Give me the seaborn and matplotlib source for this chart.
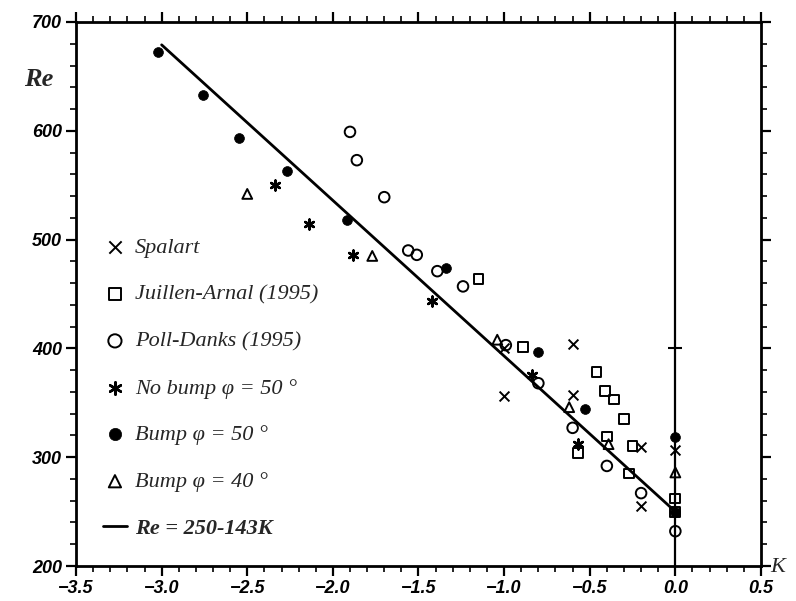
import matplotlib
matplotlib.use("Agg")
import matplotlib.pyplot as plt
import seaborn as sns
import pandas as pd
from matplotlib.ticker import MultipleLocator

# ---------------- data ----------------
spalart_k = [-1.00, -1.00, -0.60, -0.60, -0.20, -0.20, 0.00]
spalart_re = [400, 356, 404, 357, 309, 255, 307]

juillen_k = [-1.15, -0.89, -0.46, -0.41, -0.36, -0.30, -0.40, -0.25, -0.57, -0.27, 0.00, 0.00]
juillen_re = [464, 401, 378, 361, 353, 335, 319, 310, 304, 285, 262, 250]

poll_k = [-1.90, -1.86, -1.70, -1.56, -1.51, -1.39, -1.24, -0.99, -0.80, -0.60, -0.40, -0.20, 0.00]
poll_re = [599, 573, 539, 490, 486, 471, 457, 403, 368, 327, 292, 267, 232]

nobump_k = [-2.34, -2.14, -1.88, -1.42, -0.84, -0.57]
nobump_re = [550, 514, 486, 444, 376, 312]

bump50_k = [-3.02, -2.76, -2.55, -2.27, -1.92, -1.34, -0.80, -0.53, 0.00, 0.00]
bump50_re = [672, 633, 593, 563, 518, 474, 397, 344, 319, 250]

bump40_k = [-2.50, -1.77, -1.04, -0.62, -0.39, 0.00]
bump40_re = [542, 485, 408, 346, 312, 286]

fit_k = [-3.0, 0.0]
fit_re = [679, 250]

labels = ["Spalart", "Juillen-Arnal (1995)", "Poll-Danks (1995)",
          "No bump \u03c6 = 50 \u00b0", "Bump \u03c6 = 50 \u00b0",
          "Bump \u03c6 = 40 \u00b0", "Re = 250-143K"]

x_ticks = [-3.5, -3.0, -2.5, -2.0, -1.5, -1.0, -0.5, 0.0, 0.5]
y_ticks = [200, 300, 400, 500, 600, 700]

# ---------------- figure ----------------
sns.set_theme(style="ticks")
plt.rcParams["font.family"] = ["Liberation Serif", "DejaVu Serif"]

fig = plt.figure(figsize=(7.96, 6.01), dpi=100)
ax = fig.add_axes([0.0955, 0.0582, 0.8605, 0.9052])

S = 50
LW = 1.4
sns.scatterplot(x=spalart_k, y=spalart_re, ax=ax, marker="x", s=S, color="black",
                linewidth=LW, label=labels[0], zorder=4)
sns.scatterplot(x=juillen_k, y=juillen_re, ax=ax, marker="s", s=S, color="black",
                facecolor="none", edgecolor="black", linewidth=LW, label=labels[1], zorder=4)
sns.scatterplot(x=poll_k, y=poll_re, ax=ax, marker="o", s=S + 8, color="black",
                facecolor="none", edgecolor="black", linewidth=LW, label=labels[2], zorder=4)
sns.scatterplot(x=nobump_k, y=nobump_re, ax=ax, marker=(6, 2, 0), s=S, color="black",
                linewidth=LW + 0.4, label=labels[3], zorder=4)
sns.scatterplot(x=bump50_k, y=bump50_re, ax=ax, marker="o", s=S, color="black",
                edgecolor="black", linewidth=0.5, label=labels[4], zorder=4)
sns.scatterplot(x=bump40_k, y=bump40_re, ax=ax, marker="^", s=S, color="black",
                facecolor="none", edgecolor="black", linewidth=LW, label=labels[5], zorder=4)
sns.lineplot(x=fit_k, y=fit_re, ax=ax, color="black", linewidth=2.0, label=labels[6], zorder=3)

ax.axvline(0.0, color="black", linewidth=1.6, zorder=2)
ax.plot([0.0], [400], marker="_", markersize=10, markeredgewidth=1.5, color="black", zorder=2)

ax.set_xlim(-3.5, 0.5)
ax.set_ylim(200, 700)
ax.set_xticks(x_ticks)
ax.set_yticks(y_ticks)
ax.set_xticklabels([f"{v:.1f}".replace("-", "\u2212") for v in x_ticks])
ax.set_yticklabels([str(v) for v in y_ticks])
ax.xaxis.set_minor_locator(MultipleLocator(0.1))
ax.yaxis.set_minor_locator(MultipleLocator(20))

for side in ["top", "right", "bottom", "left"]:
    ax.spines[side].set_visible(True)
    ax.spines[side].set_linewidth(2.0)
    ax.spines[side].set_color("black")

ax.tick_params(which="both", direction="out", top=True, right=True,
               labeltop=False, labelright=False, colors="black")
ax.tick_params(which="major", length=7, width=1.6, pad=3)
ax.tick_params(which="minor", length=4, width=1.2)

for lab in ax.get_xticklabels() + ax.get_yticklabels():
    lab.set_fontfamily(["Liberation Sans", "DejaVu Sans"])
    lab.set_fontstyle("italic")
    lab.set_fontweight("bold")
    lab.set_fontsize(13)

ax.set_xlabel("")
ax.set_ylabel("")
fig.text(0.030, 0.868, "Re", fontsize=19, fontstyle="italic", fontweight="bold",
         ha="left", va="center")
fig.text(0.968, 0.055, "K", fontsize=16, fontstyle="italic", ha="left", va="center")

leg = ax.legend(loc="upper left", bbox_to_anchor=(0.026, 0.62), frameon=False,
                prop={"family": "Liberation Serif", "style": "italic", "size": 16},
                labelspacing=1.18, handlelength=1.1, handletextpad=0.35, borderaxespad=0,
                markerscale=1.25)
for t in leg.get_texts():
    if t.get_text().startswith("Re"):
        t.set_fontweight("bold")

fig.savefig("out.png", dpi=100, facecolor="white")
